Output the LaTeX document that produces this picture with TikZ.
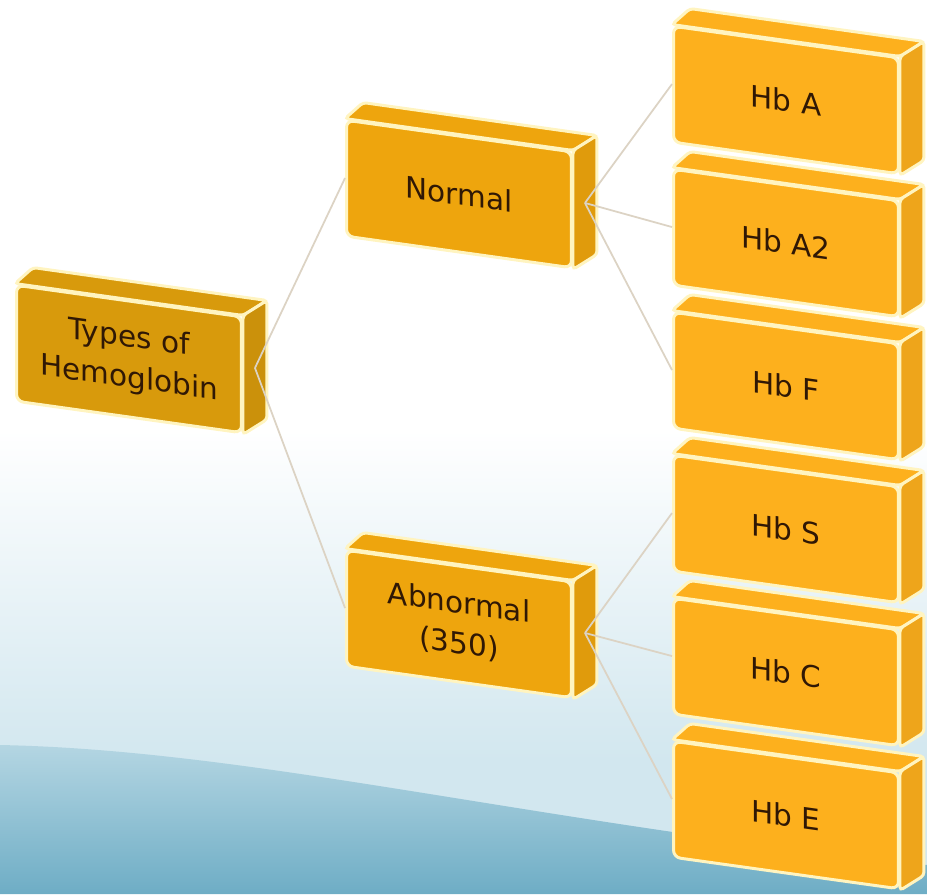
\documentclass[tikz,border=0pt]{standalone}
\usepackage{fontspec}
\setmainfont{DejaVu Sans}
\usepackage{tikz}
\usetikzlibrary{backgrounds,calc}

\definecolor{rootgold}{HTML}{D89A0C}
\definecolor{midgold}{HTML}{EEA50D}
\definecolor{leafgold}{HTML}{FDB01D}
\definecolor{rimcream}{HTML}{FFF4C0}
\definecolor{inkbrown}{HTML}{301805}
\definecolor{linkbeige}{HTML}{DCD3C4}
\definecolor{skyblue}{HTML}{D2E7EF}
\definecolor{seablue}{HTML}{6EADC5}

\pgfdeclarelayer{sky}
\pgfsetlayers{sky,background,main}

\tikzset{
    hbbox/.style={draw=rimcream, line width=1.7pt, rounded corners=4pt,
        yslant=-0.14, minimum width=4.5cm, minimum height=2.32cm,
        align=center, text=inkbrown, font=\fontsize{16.8}{23}\selectfont},
    face/.style={draw=rimcream, line width=1.7pt, rounded corners=2pt},
    link/.style={draw=linkbeige, line width=1pt}
}

\begin{document}
\begin{tikzpicture}[x=0.02cm, y=-0.02cm]
    \useasboundingbox (0,0) rectangle (927,894);

    % Background wash
    \begin{pgfonlayer}{sky}
        \fill[white] (0,0) rectangle (927,894);
        \shade[top color=white, bottom color=skyblue] (0,430) rectangle (927,760);
        \fill[skyblue] (0,760) rectangle (927,894);
        \shade[top color=skyblue!70!seablue, bottom color=seablue]
            (0,745) .. controls (250,750) and (520,820) .. (927,865)
            -- (927,894) -- (0,894) -- cycle;
    \end{pgfonlayer}

    % Boxes (front faces)
    \node[hbbox, fill=rootgold] (types) at (129,359) {Types of\\Hemoglobin};
    \node[hbbox, fill=midgold] (normal) at (459,194) {Normal};
    \node[hbbox, fill=midgold] (abnormal) at (459,624) {Abnormal\\(350)};

    \node[hbbox, fill=leafgold] (hba) at (786,100) {Hb A};
    \node[hbbox, fill=leafgold] (hbatwo) at (786,243) {Hb A2};
    \node[hbbox, fill=leafgold] (hbf) at (786,386) {Hb F};
    \node[hbbox, fill=leafgold] (hbs) at (786,529) {Hb S};
    \node[hbbox, fill=leafgold] (hbc) at (786,672) {Hb C};
    \node[hbbox, fill=leafgold] (hbe) at (786,815) {Hb E};

    % Top and side faces
    \begin{pgfonlayer}{background}
        \foreach \n/\c in {types/rootgold, normal/midgold, abnormal/midgold,
                hba/leafgold, hbatwo/leafgold, hbf/leafgold,
                hbs/leafgold, hbc/leafgold, hbe/leafgold} {
            \filldraw[face, fill=\c] (\n.north west) -- (\n.north east)
                -- ($(\n.north east)+(24,-15)$) -- ($(\n.north west)+(18,-16)$) -- cycle;
            \filldraw[face, fill=\c!94!black] (\n.north east) -- ($(\n.north east)+(24,-15)$)
                -- ($(\n.south east)+(24,-15)$) -- (\n.south east) -- cycle;
        }
    \end{pgfonlayer}

    % Connectors
    \coordinate (types-r) at ($(types.east)+(12,-7)$);
    \coordinate (normal-r) at ($(normal.east)+(12,-7)$);
    \coordinate (abnormal-r) at ($(abnormal.east)+(12,-7)$);

    \draw[link] (types-r) -- (normal.west);
    \draw[link] (types-r) -- (abnormal.west);
    \foreach \k in {hba,hbatwo,hbf} {
        \draw[link] (normal-r) -- (\k.west);
    }
    \foreach \k in {hbs,hbc,hbe} {
        \draw[link] (abnormal-r) -- (\k.west);
    }
\end{tikzpicture}
\end{document}
